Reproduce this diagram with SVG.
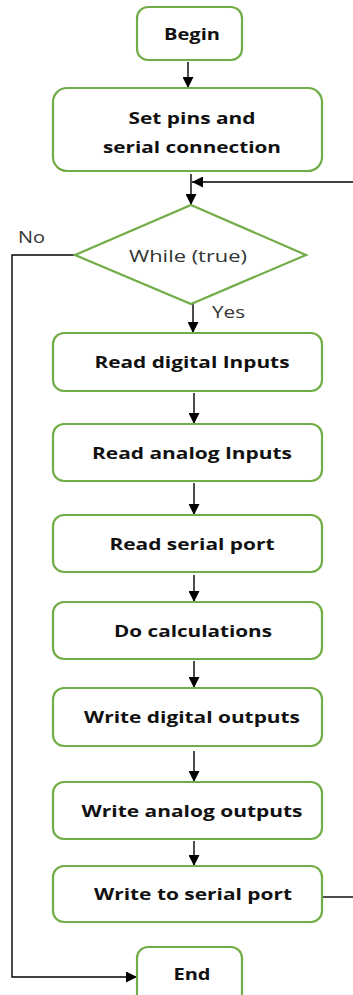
<svg xmlns="http://www.w3.org/2000/svg" width="353" height="995" viewBox="0 0 353 995">
<defs>
<marker id="ah" viewBox="0 0 10 10" refX="10" refY="5" markerWidth="11" markerHeight="11" markerUnits="userSpaceOnUse" orient="auto">
<path d="M0,0 L10,5 L0,10 Z" fill="#000"/>
</marker>
<style>
.box{fill:#fff;stroke:#70AD47;stroke-width:2.2}
.lbl{font-family:"Open Sans","Liberation Sans",sans-serif;font-weight:bold;font-size:16.5px;fill:#111;text-anchor:middle}
.reg{font-family:"Open Sans","Liberation Sans",sans-serif;font-size:16.5px;fill:#333}
.con{fill:none;stroke:#000;stroke-width:1.4}
</style>
</defs>
<rect width="353" height="995" fill="#fff"/>
<g id="connectors">
<path class="con" d="M188,62 V88" marker-end="url(#ah)"/>
<path class="con" d="M191,174 V205" marker-end="url(#ah)"/>
<path class="con" d="M353,182 H192" marker-end="url(#ah)"/>
<path class="con" d="M193,304 V333" marker-end="url(#ah)"/>
<path class="con" d="M194,393 V424" marker-end="url(#ah)"/>
<path class="con" d="M194,483 V515" marker-end="url(#ah)"/>
<path class="con" d="M194,575 V602" marker-end="url(#ah)"/>
<path class="con" d="M194,661 V688" marker-end="url(#ah)"/>
<path class="con" d="M194,751 V782" marker-end="url(#ah)"/>
<path class="con" d="M194,841 V866" marker-end="url(#ah)"/>
<path class="con" d="M322,897 H353"/>
<path class="con" d="M75,255 H12 V977 H137" marker-end="url(#ah)"/>
<text class="reg" x="18" y="243" textLength="27" lengthAdjust="spacingAndGlyphs">No</text>
<text class="reg" x="212" y="318" textLength="33" lengthAdjust="spacingAndGlyphs">Yes</text>
</g>
<g id="begin"><rect class="box" x="137" y="7" width="105" height="53" rx="11"/><text class="lbl" x="192" y="40" textLength="56" lengthAdjust="spacingAndGlyphs">Begin</text></g>
<g id="setpins"><rect class="box" x="53" y="88" width="269" height="83" rx="14"/><text class="lbl" x="192" y="124" textLength="127" lengthAdjust="spacingAndGlyphs">Set pins and</text><text class="lbl" x="192" y="153" textLength="178" lengthAdjust="spacingAndGlyphs">serial connection</text></g>
<g id="while"><polygon points="191,205 306,255 191,304 75,255" fill="#fff" stroke="#70AD47" stroke-width="2.2"/><text class="reg" x="188" y="262" text-anchor="middle" textLength="118" lengthAdjust="spacingAndGlyphs">While (true)</text></g>
<g id="readdig"><rect class="box" x="53" y="333" width="269" height="58" rx="11"/><text class="lbl" x="192" y="368" textLength="195" lengthAdjust="spacingAndGlyphs">Read digital Inputs</text></g>
<g id="readana"><rect class="box" x="53" y="424" width="269" height="57" rx="11"/><text class="lbl" x="192" y="459" textLength="200" lengthAdjust="spacingAndGlyphs">Read analog Inputs</text></g>
<g id="readser"><rect class="box" x="53" y="515" width="269" height="57" rx="11"/><text class="lbl" x="192" y="550" textLength="165" lengthAdjust="spacingAndGlyphs">Read serial port</text></g>
<g id="docalc"><rect class="box" x="53" y="602" width="269" height="57" rx="11"/><text class="lbl" x="193" y="637" textLength="158" lengthAdjust="spacingAndGlyphs">Do calculations</text></g>
<g id="writedig"><rect class="box" x="53" y="688" width="269" height="58" rx="11"/><text class="lbl" x="192" y="723" textLength="216" lengthAdjust="spacingAndGlyphs">Write digital outputs</text></g>
<g id="writeana"><rect class="box" x="53" y="782" width="269" height="57" rx="11"/><text class="lbl" x="192" y="817" textLength="221" lengthAdjust="spacingAndGlyphs">Write analog outputs</text></g>
<g id="writeser"><rect class="box" x="53" y="866" width="269" height="56" rx="11"/><text class="lbl" x="193" y="900" textLength="198" lengthAdjust="spacingAndGlyphs">Write to serial port</text></g>
<g id="end"><rect class="box" x="137" y="947" width="105" height="60" rx="11"/><text class="lbl" x="192" y="980" textLength="37" lengthAdjust="spacingAndGlyphs">End</text></g>
</svg>
